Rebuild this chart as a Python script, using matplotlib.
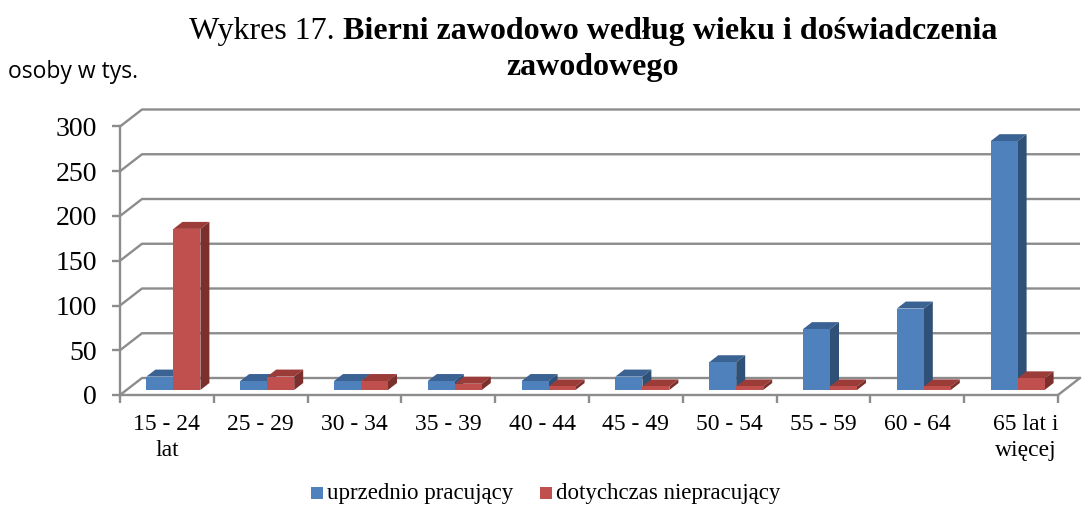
import numpy as np
import matplotlib.pyplot as plt
import matplotlib.transforms as mtransforms
from matplotlib.patches import Polygon, Rectangle

# data (osoby w tys.)
categories = ['15 - 24\nlat', '25 - 29', '30 - 34', '35 - 39', '40 - 44',
              '45 - 49', '50 - 54', '55 - 59', '60 - 64', '65 lat i\nwięcej']
uprzednio = [15, 10, 10, 10, 10, 15, 31, 68, 91, 278]
dotychczas = [180, 15, 10, 7, 4, 4, 4, 4, 4, 13]
series_names = ['uprzednio pracujący', 'dotychczas niepracujący']
yticks = [0, 50, 100, 150, 200, 250, 300]

W, H = 1088, 507
fig = plt.figure(figsize=(W / 100, H / 100), dpi=100)

# axes placed in pixels: x 0 at px 120, 93.8 px per category; y 0 at px 395, 0.895 px per unit
px_cat = 93.8
px_val = 0.895
ax_left, ax_bottom = 120, H - 395
ymax = 330
xmax = (W - ax_left) / px_cat
ax = fig.add_axes([ax_left / W, ax_bottom / H, (W - ax_left) / W, ymax * px_val / H])
ax.set_xlim(0, xmax)
ax.set_ylim(0, ymax)

# 3d offsets in data units
def off(px_x, px_y):
    return px_x / px_cat, px_y / px_val

wall_dx, wall_dy = off(22, 17)
face_dx, face_dy = off(6.5, 5)
deep_dx, deep_dy = off(9, 7)
bar_w = 27 / px_cat

grid_c = '#8c8c8c'
n = len(categories)

# back wall gridlines with the diagonal on the side wall
for v in yticks:
    ax.plot([0, wall_dx, n + wall_dx], [v, v + wall_dy, v + wall_dy],
            color=grid_c, lw=1.7, zorder=1, clip_on=False, solid_capstyle='butt')
# front edge of the floor
ax.plot([n, n + wall_dx], [0, wall_dy], color=grid_c, lw=1.7, zorder=1, clip_on=False)

colors = [('#4f81bd', '#3a6293', '#2f5077'), ('#c0504d', '#9b3c39', '#7c302e')]


def draw_bar(x0, v, cols):
    front, top, side = cols
    y0 = face_dy
    y1 = face_dy + v
    x1 = x0 + bar_w
    ax.add_patch(Polygon([(x0, y1), (x1, y1), (x1 + deep_dx, y1 + deep_dy), (x0 + deep_dx, y1 + deep_dy)],
                         closed=True, fc=top, ec='none', zorder=3))
    ax.add_patch(Polygon([(x1, y0), (x1 + deep_dx, y0 + deep_dy), (x1 + deep_dx, y1 + deep_dy), (x1, y1)],
                         closed=True, fc=side, ec='none', zorder=3))
    ax.add_patch(Rectangle((x0, y0), bar_w, v, fc=front, ec='none', zorder=3))


for i in range(n):
    cx = i + 0.5 + face_dx
    draw_bar(cx - bar_w, uprzednio[i], colors[0])
    draw_bar(cx, dotychczas[i], colors[1])

# axes styling
for s in ['top', 'right']:
    ax.spines[s].set_visible(False)
for s in ['left', 'bottom']:
    ax.spines[s].set_color(grid_c)
    ax.spines[s].set_linewidth(1.7)
ax.spines['left'].set_bounds(0, 300)
ax.spines['bottom'].set_bounds(0, n)
ax.set_yticks(yticks)
ax.set_yticklabels([str(v) for v in yticks], fontsize=20, family='Liberation Serif')
ax.tick_params(axis='y', length=6, width=1.7, color=grid_c, pad=10.5)
ax.set_xticks(np.arange(n) + 0.5)
ax.set_xticklabels(categories, fontsize=17, family='Liberation Serif', linespacing=1.3)
ax.tick_params(axis='x', which='major', length=0, pad=14)
ax.set_xticks(np.arange(n + 1), minor=True)
ax.tick_params(axis='x', which='minor', length=6, width=1.7, color=grid_c)
last = ax.get_xticklabels()[-1]
last.set_transform(last.get_transform() + mtransforms.ScaledTranslation(15 / 100, 0, fig.dpi_scale_trans))
ax.set_facecolor('none')

# title: normal prefix + bold rest, centred together
title_fs = 23
t1 = fig.text(0, 1 - 31 / H, 'Wykres 17. ', ha='left', va='center', fontsize=title_fs,
              family='Liberation Serif')
t2 = fig.text(0, 1 - 31 / H, 'Bierni zawodowo według wieku i doświadczenia', ha='left',
              va='center', fontsize=title_fs, family='Liberation Serif', weight='bold')
r = fig.canvas.get_renderer()
w1 = t1.get_window_extent(r).width
w2 = t2.get_window_extent(r).width
x_start = 593 - (w1 + w2) / 2
t1.set_x(x_start / W)
t2.set_x((x_start + w1) / W)
fig.text(593 / W, 1 - 67 / H, 'zawodowego', ha='center', va='center', fontsize=title_fs,
         family='Liberation Serif', weight='bold')
fig.text(8 / W, 1 - 72 / H, 'osoby w tys.', ha='left', va='center', fontsize=16.5,
         family='Open Sans')

# legend
leg_items = [(311, colors[0][0], series_names[0]), (540, colors[1][0], series_names[1])]
for x, c, name in leg_items:
    fig.patches.append(Rectangle((x / W, 1 - 499 / H), 12 / W, 12 / H, fc=c, ec='none',
                                 transform=fig.transFigure, figure=fig))
    fig.text((x + 16) / W, 1 - 494 / H, name, ha='left', va='center', fontsize=16.5,
             family='Liberation Serif')

fig.savefig('out.png', dpi=100)
